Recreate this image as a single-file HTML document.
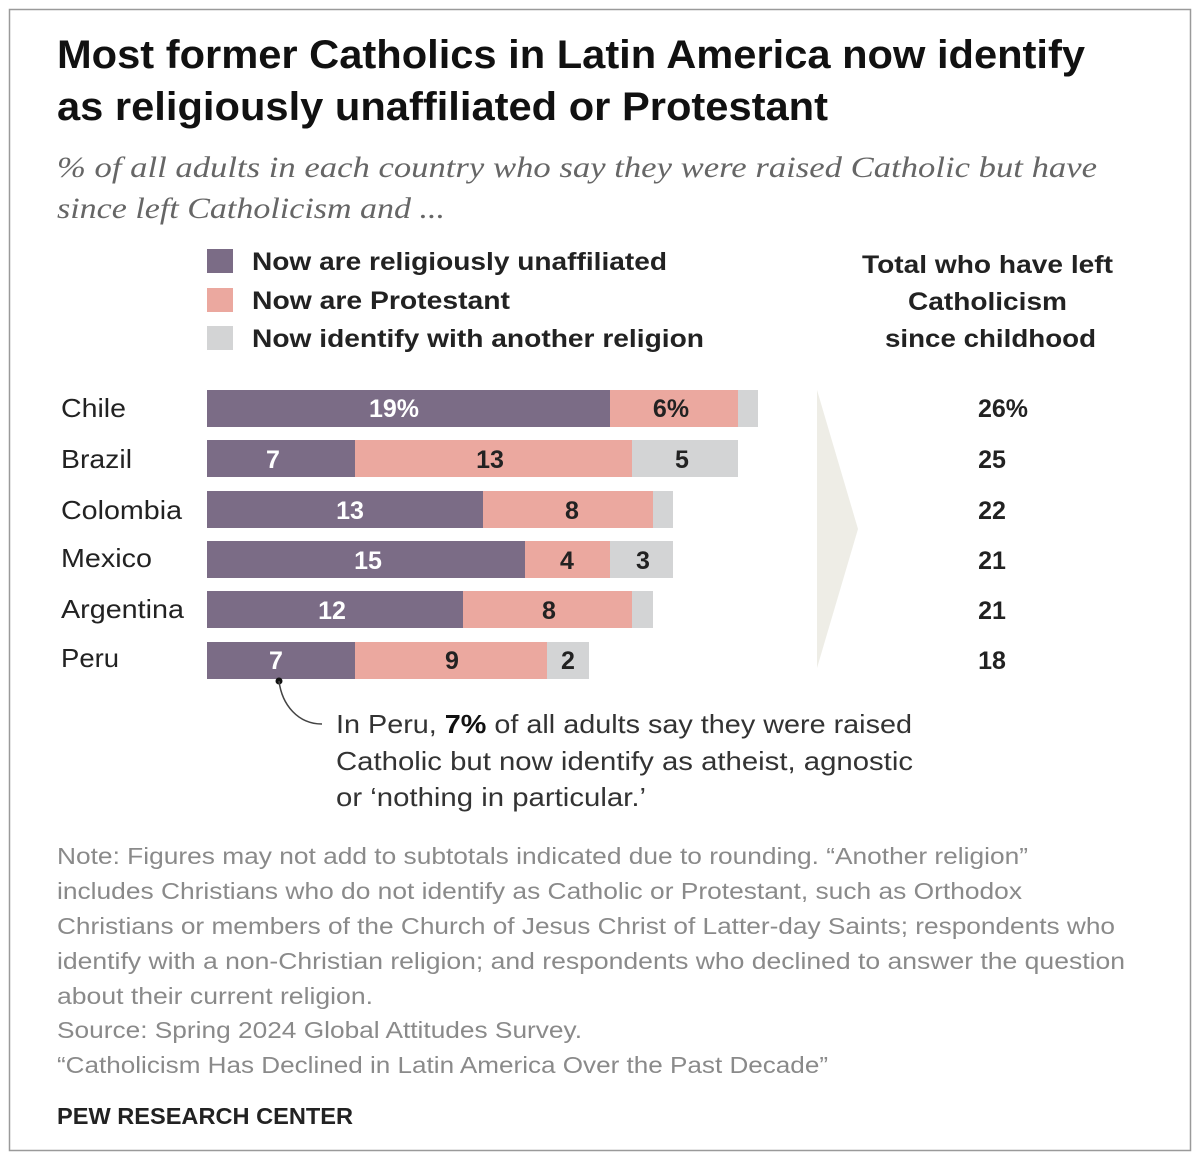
<!DOCTYPE html>
<html><head><meta charset="utf-8"><style>
html,body{margin:0;padding:0;background:#fff;}
svg{display:block;font-family:"Liberation Sans",sans-serif;}
</style></head><body>
<svg width="1200" height="1156" viewBox="0 0 1200 1156" xmlns="http://www.w3.org/2000/svg">
<rect x="9.5" y="9.5" width="1181" height="1141" fill="#fff" stroke="#9a9a9a" stroke-width="1.5"/>
<g font-weight="bold" fill="#111" font-size="40">
<text x="57" y="68" textLength="1028" lengthAdjust="spacingAndGlyphs">Most former Catholics in Latin America now identify</text>
<text x="57" y="120" textLength="771" lengthAdjust="spacingAndGlyphs">as religiously unaffiliated or Protestant</text>
</g>
<g font-family="Liberation Serif,serif" font-style="italic" fill="#666" font-size="30">
<text x="57" y="177" textLength="1040" lengthAdjust="spacingAndGlyphs">% of all adults in each country who say they were raised Catholic but have</text>
<text x="57" y="218" textLength="388" lengthAdjust="spacingAndGlyphs">since left Catholicism and ...</text>
</g>
<rect x="207" y="249" width="26" height="24" fill="#7b6c86"/>
<rect x="207" y="288" width="26" height="24" fill="#eba89f"/>
<rect x="207" y="326" width="26" height="24" fill="#d3d4d5"/>
<g font-weight="bold" fill="#222" font-size="25">
<text x="252" y="270" textLength="415" lengthAdjust="spacingAndGlyphs">Now are religiously unaffiliated</text>
<text x="252" y="309" textLength="258" lengthAdjust="spacingAndGlyphs">Now are Protestant</text>
<text x="252" y="347" textLength="452" lengthAdjust="spacingAndGlyphs">Now identify with another religion</text>
<text x="862" y="273" textLength="251" lengthAdjust="spacingAndGlyphs">Total who have left</text>
<text x="908" y="310" textLength="159" lengthAdjust="spacingAndGlyphs">Catholicism</text>
<text x="885" y="347" textLength="211" lengthAdjust="spacingAndGlyphs">since childhood</text>
</g>
<polygon points="817,390 858,529 817,668" fill="#eeede6"/>
<g font-size="26" fill="#222">
<text x="61" y="417" textLength="65" lengthAdjust="spacingAndGlyphs">Chile</text>
<text x="61" y="468" textLength="71" lengthAdjust="spacingAndGlyphs">Brazil</text>
<text x="61" y="519" textLength="121" lengthAdjust="spacingAndGlyphs">Colombia</text>
<text x="61" y="567" textLength="91" lengthAdjust="spacingAndGlyphs">Mexico</text>
<text x="61" y="618" textLength="123" lengthAdjust="spacingAndGlyphs">Argentina</text>
<text x="61" y="667" textLength="58" lengthAdjust="spacingAndGlyphs">Peru</text>
</g>
<g>
<rect x="207" y="390" width="403" height="37" fill="#7b6c86"/><rect x="610" y="390" width="128" height="37" fill="#eba89f"/><rect x="738" y="390" width="20" height="37" fill="#d3d4d5"/>
<rect x="207" y="440" width="148" height="37" fill="#7b6c86"/><rect x="355" y="440" width="277" height="37" fill="#eba89f"/><rect x="632" y="440" width="106" height="37" fill="#d3d4d5"/>
<rect x="207" y="491" width="276" height="37" fill="#7b6c86"/><rect x="483" y="491" width="170" height="37" fill="#eba89f"/><rect x="653" y="491" width="20" height="37" fill="#d3d4d5"/>
<rect x="207" y="541" width="318" height="37" fill="#7b6c86"/><rect x="525" y="541" width="85" height="37" fill="#eba89f"/><rect x="610" y="541" width="63" height="37" fill="#d3d4d5"/>
<rect x="207" y="591" width="256" height="37" fill="#7b6c86"/><rect x="463" y="591" width="169" height="37" fill="#eba89f"/><rect x="632" y="591" width="21" height="37" fill="#d3d4d5"/>
<rect x="207" y="642" width="148" height="37" fill="#7b6c86"/><rect x="355" y="642" width="192" height="37" fill="#eba89f"/><rect x="547" y="642" width="42" height="37" fill="#d3d4d5"/>
</g>
<g font-weight="bold" font-size="25" text-anchor="middle">
<g fill="#fff">
<text x="394" y="417">19%</text><text x="273" y="468">7</text><text x="350" y="519">13</text><text x="368" y="569">15</text><text x="332" y="619">12</text><text x="276" y="669">7</text>
</g>
<g fill="#222">
<text x="671" y="417">6%</text><text x="490" y="468">13</text><text x="682" y="468">5</text><text x="572" y="519">8</text><text x="567" y="569">4</text><text x="643" y="569">3</text><text x="549" y="619">8</text><text x="452" y="669">9</text><text x="568" y="669">2</text>
<text x="1003" y="417">26%</text><text x="992" y="468">25</text><text x="992" y="519">22</text><text x="992" y="569">21</text><text x="992" y="619">21</text><text x="992" y="669">18</text>
</g>
</g>
<circle cx="279" cy="681" r="3.5" fill="#111"/>
<path d="M279,681 C282,705 298,724 322,724" fill="none" stroke="#444" stroke-width="1.5"/>
<g font-size="26" fill="#333">
<text x="336" y="733" textLength="576" lengthAdjust="spacingAndGlyphs">In Peru, <tspan font-weight="bold" fill="#111">7%</tspan> of all adults say they were raised</text>
<text x="336" y="770" textLength="577" lengthAdjust="spacingAndGlyphs">Catholic but now identify as atheist, agnostic</text>
<text x="336" y="806" textLength="310" lengthAdjust="spacingAndGlyphs">or ‘nothing in particular.’</text>
</g>
<g font-size="23" fill="#8a8a8a">
<text x="57" y="864" textLength="971" lengthAdjust="spacingAndGlyphs">Note: Figures may not add to subtotals indicated due to rounding. “Another religion”</text>
<text x="57" y="899" textLength="965" lengthAdjust="spacingAndGlyphs">includes Christians who do not identify as Catholic or Protestant, such as Orthodox</text>
<text x="57" y="934" textLength="1058" lengthAdjust="spacingAndGlyphs">Christians or members of the Church of Jesus Christ of Latter-day Saints; respondents who</text>
<text x="57" y="969" textLength="1068" lengthAdjust="spacingAndGlyphs">identify with a non-Christian religion; and respondents who declined to answer the question</text>
<text x="57" y="1004" textLength="316" lengthAdjust="spacingAndGlyphs">about their current religion.</text>
<text x="57" y="1038" textLength="525" lengthAdjust="spacingAndGlyphs">Source: Spring 2024 Global Attitudes Survey.</text>
<text x="57" y="1073" textLength="771" lengthAdjust="spacingAndGlyphs">“Catholicism Has Declined in Latin America Over the Past Decade”</text>
</g>
<text x="57" y="1124" font-size="23" font-weight="bold" fill="#222" textLength="296" lengthAdjust="spacingAndGlyphs">PEW RESEARCH CENTER</text>
</svg>
</body></html>
